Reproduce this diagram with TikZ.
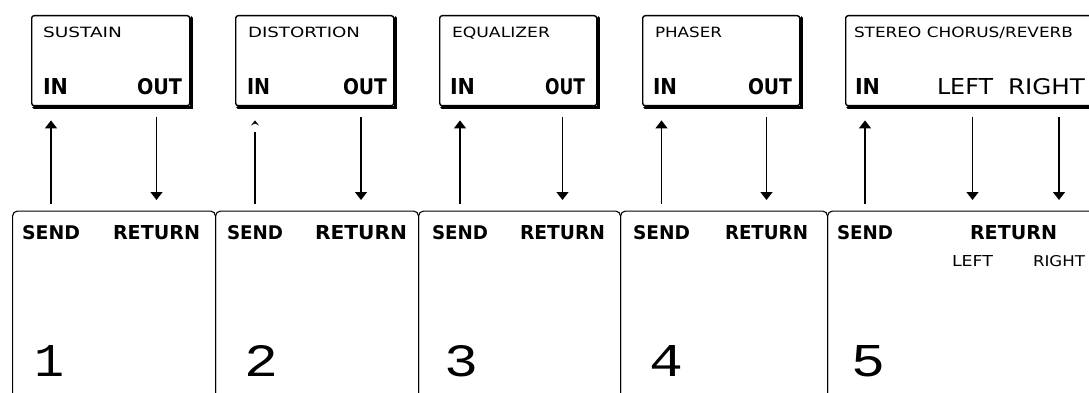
\documentclass[tikz,border=0pt]{standalone}
\usepackage{fontspec}
\setmainfont{DejaVu Sans}
\newfontfamily\numfont{Liberation Mono}
\usetikzlibrary{arrows.meta,calc}
\newcommand{\fitt}[3]{\resizebox{#1pt}{#2pt}{#3}}
\begin{document}
\begin{tikzpicture}[x=1pt,y=-1pt,
  lbl/.style={inner sep=0pt, outer sep=0pt, anchor=base west},
  numlbl/.style={inner sep=0pt, outer sep=0pt, anchor=base},
  fxbox/.style={draw, line width=1.4pt, rounded corners=2.5pt, inner sep=0pt, anchor=north west, minimum height=90pt},
  shadowline/.style={line width=3.6pt, line cap=round},
  panel/.style={draw, line width=1.1pt, rounded corners=5pt, inner sep=0pt, anchor=north west, minimum height=200pt},
  conn/.style={line width=1.3pt, -{Triangle[width=12pt,length=8pt]}},
  plain/.style={line width=1.2pt}
]
\useasboundingbox (0,0) rectangle (1089,393);
\clip (0,0) rectangle (1089,393);
\fill[white] (0,0) rectangle (1089,393);

% effect boxes
\node[fxbox, minimum width=158pt] (b1) at (31,15) {};
\node[fxbox, minimum width=158pt] (b2) at (235,15) {};
\node[fxbox, minimum width=157pt] (b3) at (439,15) {};
\node[fxbox, minimum width=157pt] (b4) at (642,15) {};
\node[fxbox, minimum width=300pt] (b5) at (845,15) {};
\foreach \b in {b1,b2,b3,b4,b5}{
  \draw[shadowline] ($(\b.north east)+(1.2,3)$) -- ($(\b.south east)+(1.2,1.2)$) -- ($(\b.south west)+(3,1.2)$);
}

% panels
\node[panel, minimum width=203pt] (p1) at (12,210.5) {};
\node[panel, minimum width=203pt] (p2) at (215,210.5) {};
\node[panel, minimum width=202pt] (p3) at (418,210.5) {};
\node[panel, minimum width=207pt] (p4) at (620,210.5) {};
\node[panel, minimum width=300pt] (p5) at (827,210.5) {};

% box labels
\node[lbl] (t1) at (43,37.3) {\fitt{79}{10.5}{SUSTAIN}};
\node[lbl] (t2) at (248,37.3) {\fitt{112}{10.5}{DISTORTION}};
\node[lbl] (t3) at (452,37.3) {\fitt{98}{10.5}{EQUALIZER}};
\node[lbl] (t4) at (655,37.3) {\fitt{67}{10.5}{PHASER}};
\node[lbl] (t5) at (854,37.3) {\fitt{219}{10.5}{STEREO CHORUS/REVERB}};

\node[lbl] (in1) at (43,95) {\fitt{25}{16}{\bfseries IN}};
\node[lbl] (out1) at (137,95) {\fitt{45}{16}{\bfseries OUT}};
\node[lbl] (in2) at (247,95) {\fitt{23}{16}{\bfseries IN}};
\node[lbl] (out2) at (343,95) {\fitt{44}{16}{\bfseries OUT}};
\node[lbl] (in3) at (450,95) {\fitt{25}{16}{\bfseries IN}};
\node[lbl] (out3) at (545,95) {\fitt{40}{16}{\bfseries OUT}};
\node[lbl] (in4) at (653,95) {\fitt{24}{16}{\bfseries IN}};
\node[lbl] (out4) at (748,95) {\fitt{44}{16}{\bfseries OUT}};
\node[lbl] (in5) at (855,95) {\fitt{25}{16}{\bfseries IN}};
\node[lbl] (left5) at (937,95) {\fitt{56}{16}{LEFT}};
\node[lbl] (right5) at (1008,95) {\fitt{77}{16}{RIGHT}};

% panel labels
\node[lbl] (s1) at (22,239) {\fitt{58}{14}{\bfseries SEND}};
\node[lbl] (r1) at (113,239) {\fitt{87}{14}{\bfseries RETURN}};
\node[lbl] (s2) at (227,239) {\fitt{56}{14}{\bfseries SEND}};
\node[lbl] (r2) at (315,239) {\fitt{92}{14}{\bfseries RETURN}};
\node[lbl] (s3) at (432,239) {\fitt{56}{14}{\bfseries SEND}};
\node[lbl] (r3) at (520,239) {\fitt{85}{14}{\bfseries RETURN}};
\node[lbl] (s4) at (633,239) {\fitt{57}{14}{\bfseries SEND}};
\node[lbl] (r4) at (725,239) {\fitt{83}{14}{\bfseries RETURN}};
\node[lbl] (s5) at (837,239) {\fitt{56}{14}{\bfseries SEND}};
\node[lbl] (r5) at (970,239) {\fitt{87}{14}{\bfseries RETURN}};
\node[lbl] (sl5) at (952,266) {\fitt{41}{11}{LEFT}};
\node[lbl] (sr5) at (1033,266) {\fitt{52}{11}{RIGHT}};

% numbers
\node[numlbl] (n1) at (50,376) {\fitt{30}{31}{\numfont 1}};
\node[numlbl] (n2) at (261.5,376) {\fitt{34}{31}{\numfont 2}};
\node[numlbl] (n3) at (461,376) {\fitt{34}{31}{\numfont 3}};
\node[numlbl] (n4) at (666.5,376) {\fitt{34}{31}{\numfont 4}};
\node[numlbl] (n5) at (868.5,376) {\fitt{34}{31}{\numfont 5}};

% connectors: send -> in (up)
\draw[conn, shorten <=7pt, shorten >=14pt] (s1.center |- p1.north) -- (s1.center |- b1.south);
\draw[plain, shorten <=7pt, shorten >=26pt] (s2.center |- p2.north) -- (s2.center |- b2.south);
\fill ($(s2.center |- b2.south)+(0,14)$) -- ++(4,5) -- ++(-4,-2) -- ++(-4,2) -- cycle;
\draw[conn, shorten <=7pt, shorten >=14pt] (s3.center |- p3.north) -- (s3.center |- b3.south);
\draw[conn, shorten <=7pt, shorten >=14pt] (s4.center |- p4.north) -- (s4.center |- b4.south);
\draw[conn, shorten <=7pt, shorten >=14pt] (s5.center |- p5.north) -- (s5.center |- b5.south);
% out -> return (down)
\draw[conn, shorten <=11pt, shorten >=10.5pt] (r1.center |- b1.south) -- (r1.center |- p1.north);
\draw[conn, shorten <=11pt, shorten >=10.5pt] (r2.center |- b2.south) -- (r2.center |- p2.north);
\draw[conn, shorten <=11pt, shorten >=10.5pt] (r3.center |- b3.south) -- (r3.center |- p3.north);
\draw[conn, shorten <=11pt, shorten >=10.5pt] (r4.center |- b4.south) -- (r4.center |- p4.north);
\draw[conn, shorten <=11pt, shorten >=10.5pt] (sl5.center |- b5.south) -- (sl5.center |- p5.north);
\draw[conn, shorten <=11pt, shorten >=10.5pt] (sr5.center |- b5.south) -- (sr5.center |- p5.north);
\end{tikzpicture}
\end{document}
